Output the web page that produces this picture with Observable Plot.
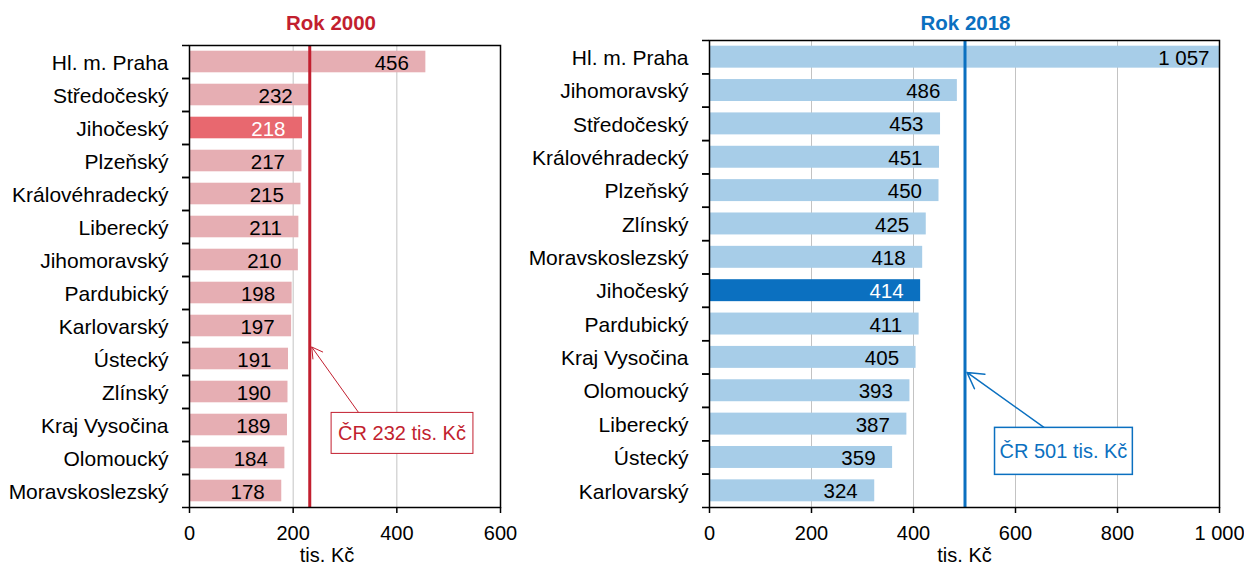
<!DOCTYPE html>
<html><head><meta charset="utf-8">
<script src="https://cdn.jsdelivr.net/npm/d3@7"></script>
<script src="https://cdn.jsdelivr.net/npm/@observablehq/plot@0.6"></script>
<style>
html,body{margin:0;padding:0;background:#fff;}
#root{display:flex;width:1244px;height:565px;overflow:hidden;background:#fff;}
svg{display:block;}
</style></head><body><div id="root"></div>
<script>
// ---- data ----
const regions2000 = ["Hl. m. Praha","Středočeský","Jihočeský","Plzeňský","Královéhradecký","Liberecký","Jihomoravský","Pardubický","Karlovarský","Ústecký","Zlínský","Kraj Vysočina","Olomoucký","Moravskoslezský"];
const values2000 = [456,232,218,217,215,211,210,198,197,191,190,189,184,178];
const regions2018 = ["Hl. m. Praha","Jihomoravský","Středočeský","Královéhradecký","Plzeňský","Zlínský","Moravskoslezský","Jihočeský","Pardubický","Kraj Vysočina","Olomoucký","Liberecký","Ústecký","Karlovarský"];
const values2018 = [1057,486,453,451,450,425,418,414,411,405,393,387,359,324];
const national2000 = 232;
const national2018 = 501;
const highlightRegion = "Jihočeský";
const ticks2000 = [0,200,400,600];
const ticks2018 = [0,200,400,600,800,1000];
const titles = ["Rok 2000","Rok 2018"];
const axisLabel = "tis. Kč";
const annotLabels = ["ČR 232 tis. Kč","ČR 501 tis. Kč"];

// ---- formatting ----
const cz = d3.formatLocale({decimal: ",", thousands: "\u00a0", grouping: [3], currency: ["", " Kč"]});
const fmt = cz.format(",d");

function panel(cfg) {
  const data = cfg.regions.map((r, i) => ({region: r, value: cfg.values[i]}));
  const xMax = cfg.ticks[cfg.ticks.length - 1];
  const step = (cfg.height - cfg.marginTop - cfg.marginBottom) / cfg.regions.length;
  const inside = data.filter(d => d.value <= xMax);
  const over = data.filter(d => d.value > xMax);
  const a = cfg.annot;
  const isHl = d => d.region === highlightRegion;
  return Plot.plot({
    width: cfg.width, height: cfg.height,
    marginLeft: cfg.marginLeft, marginRight: cfg.marginRight,
    marginTop: cfg.marginTop, marginBottom: cfg.marginBottom,
    style: {fontFamily: "'Liberation Sans', Arial, sans-serif", fontSize: "20px", color: "black", background: "white", overflow: "visible"},
    x: {domain: [0, xMax], label: null},
    y: {domain: cfg.regions, padding: 0, round: false, label: null},
    color: {type: "identity"},
    marks: [
      Plot.gridX({ticks: cfg.ticks, stroke: "#c3c3c3", strokeOpacity: 1, strokeWidth: 1}),
      Plot.barX(data, {x: "value", y: "region", fill: d => isHl(d) ? cfg.hl : cfg.base, insetTop: 5.7, insetBottom: 5.7, clip: true}),
      Plot.text(inside, {x: "value", y: "region", text: d => fmt(d.value), textAnchor: "end", dx: -17, dy: 1, fontSize: 20.5, fill: d => isHl(d) ? "white" : "black"}),
      Plot.text(over, {x: () => xMax, y: "region", text: d => fmt(d.value), textAnchor: "end", dx: -10, dy: 1, fontSize: 20.5, fill: d => isHl(d) ? "white" : "black"}),
      Plot.ruleX([cfg.national], {stroke: cfg.main, strokeWidth: 3}),
      Plot.arrow([a], {x1: "x1", y1: "y1", x2: "x2", y2: "y2", dx: 2, dy: a.dy, stroke: cfg.main, strokeWidth: a.sw, headLength: 18}),
      Plot.text([a], {x: "tx", y: "ty", dy: a.tdy, text: "label", fill: cfg.main, lineAnchor: "middle"}),
      Plot.frame({stroke: "black", strokeWidth: 1.5}),
      Plot.axisX({ticks: cfg.ticks, tickFormat: fmt, tickSize: 6, tickPadding: 12, strokeWidth: 1.5, label: null}),
      Plot.axisY({tickSize: 0, tickPadding: 21, dy: 1, fontSize: 21, label: null}),
      Plot.axisY({tickSize: 7, tickFormat: () => "", dy: -step / 2, strokeWidth: 1.5, label: null}),
      Plot.axisY({tickSize: 7, tickFormat: () => "", dy: step / 2, strokeWidth: 1.5, label: null}),
      Plot.text([cfg.title], {text: d => d, frameAnchor: "top", dy: cfg.titleDy, dx: cfg.titleDx, fill: cfg.main, fontWeight: "bold", fontSize: 20.5, lineAnchor: "middle"}),
      Plot.text([axisLabel], {text: d => d, frameAnchor: "bottom", dy: 48, dx: cfg.labelDx, lineAnchor: "middle", fill: "black"})
    ]
  });
}

function addBox(svg, label, color, sw, padX, padY) {
  const t = Array.from(svg.querySelectorAll("text")).find(e => e.textContent === label);
  if (!t) return;
  const sr = svg.getBoundingClientRect(), r = t.getBoundingClientRect();
  const rect = document.createElementNS("http://www.w3.org/2000/svg", "rect");
  rect.setAttribute("x", r.left - sr.left - padX);
  rect.setAttribute("y", r.top - sr.top - padY);
  rect.setAttribute("width", r.width + 2 * padX);
  rect.setAttribute("height", r.height + 2 * padY);
  rect.setAttribute("fill", "white");
  rect.setAttribute("stroke", color);
  rect.setAttribute("stroke-width", sw);
  let node = t;
  while (node.parentNode && node.parentNode !== svg) node = node.parentNode;
  svg.insertBefore(rect, node);
}

const root = document.getElementById("root");
const cfgL = {
  regions: regions2000, values: values2000, ticks: ticks2000, national: national2000,
  width: 520, height: 565, marginLeft: 189, marginRight: 20, marginTop: 45, marginBottom: 58,
  base: "#E6AEB3", hl: "#E8686F", main: "#C21F2F",
  title: titles[0], titleDy: -22, titleDx: -14, labelDx: -18,
  annot: {label: annotLabels[0], x1: 323, y1: "Kraj Vysočina", x2: national2000, y2: "Ústecký", dy: -12, sw: 1, tx: 410, ty: "Kraj Vysočina", tdy: 8.5}
};
const cfgR = {
  regions: regions2018, values: values2018, ticks: ticks2018, national: national2018,
  width: 724, height: 565, marginLeft: 189, marginRight: 25, marginTop: 40, marginBottom: 58,
  base: "#A7CDE8", hl: "#0B70C0", main: "#0B70C0",
  title: titles[1], titleDy: -17, titleDx: 1, labelDx: 0,
  annot: {label: annotLabels[1], x1: 684, y1: "Liberecký", x2: national2018, y2: "Kraj Vysočina", dy: 15, sw: 1.5, tx: 694, ty: "Ústecký", tdy: -6}
};
const svgL = panel(cfgL);
const svgR = panel(cfgR);
root.appendChild(svgL);
root.appendChild(svgR);
addBox(svgL, annotLabels[0], cfgL.main, 1, 7, 9.5);
addBox(svgR, annotLabels[1], cfgR.main, 1.5, 5, 12.5);
</script>
</body></html>
